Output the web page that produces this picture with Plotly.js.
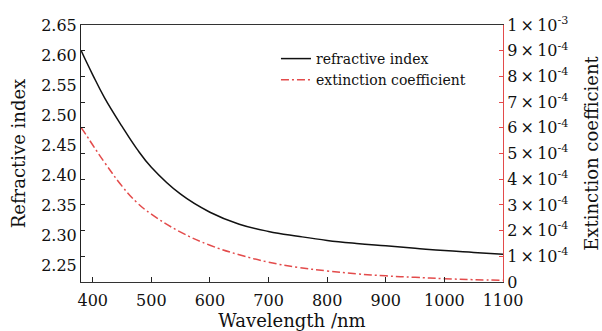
<!DOCTYPE html>
<html>
<head>
<meta charset="utf-8">
<script src="https://cdn.plot.ly/plotly-3.0.1.min.js"></script>
<style>html,body{margin:0;padding:0;background:#fff;}#chart{width:602px;height:331px;}</style>
</head>
<body>
<div id="chart"></div>
<script>
// Wavelength (nm)
const wavelength = [380, 390, 400, 420, 450, 475, 500, 550, 600, 650, 700, 750, 800, 850, 900, 950, 1000, 1050, 1100];
// Refractive index (left axis)
const refractiveIndex = [2.608, 2.587, 2.567, 2.529, 2.481, 2.444, 2.413, 2.368, 2.338, 2.318, 2.306, 2.298, 2.291, 2.286, 2.282, 2.278, 2.274, 2.271, 2.268];
// Extinction coefficient (right axis)
const extinctionCoeff = [6.01e-4, 5.68e-4, 5.33e-4, 4.66e-4, 3.73e-4, 3.10e-4, 2.64e-4, 1.94e-4, 1.43e-4, 1.06e-4, 0.77e-4, 0.57e-4, 0.43e-4, 0.32e-4, 0.24e-4, 0.18e-4, 0.13e-4, 0.09e-4, 0.07e-4];

const xTicks = [400, 500, 600, 700, 800, 900, 1000, 1100];
const leftTicks = [2.25, 2.30, 2.35, 2.40, 2.45, 2.50, 2.55, 2.60, 2.65];
const rightTicks = [0, 1e-4, 2e-4, 3e-4, 4e-4, 5e-4, 6e-4, 7e-4, 8e-4, 9e-4, 1e-3];
const rightTickText = ['0', '1\u2009×\u200910<sup>-4</sup>', '2\u2009×\u200910<sup>-4</sup>', '3\u2009×\u200910<sup>-4</sup>', '4\u2009×\u200910<sup>-4</sup>',
  '5\u2009×\u200910<sup>-4</sup>', '6\u2009×\u200910<sup>-4</sup>', '7\u2009×\u200910<sup>-4</sup>', '8\u2009×\u200910<sup>-4</sup>', '9\u2009×\u200910<sup>-4</sup>', '1\u2009×\u200910<sup>-3</sup>'];

const RED = '#e34b4b';
const FONT = 'DejaVu Serif';

const traces = [
  {x: wavelength, y: refractiveIndex, type: 'scatter', mode: 'lines', name: 'refractive index',
   line: {color: '#111', width: 1.5, shape: 'spline', smoothing: 1.2}, yaxis: 'y'},
  {x: wavelength, y: extinctionCoeff, type: 'scatter', mode: 'lines', name: 'extinction coefficient',
   line: {color: RED, width: 1.5, dash: '8px,3px,2px,3px', shape: 'spline', smoothing: 1.2}, yaxis: 'y2'},
  {x: [], y: [], type: 'scatter', mode: 'lines', showlegend: false, hoverinfo: 'skip', yaxis: 'y3'}
];

const layout = {
  width: 602, height: 331,
  margin: {l: 81, r: 99, t: 25, b: 49},
  paper_bgcolor: '#fff', plot_bgcolor: '#fff',
  font: {family: FONT, size: 16, color: '#111'},
  showlegend: true,
  legend: {x: 0.462, y: 0.93, xanchor: 'left', yanchor: 'top', bgcolor: 'rgba(0,0,0,0)',
           font: {family: FONT, size: 14, color: '#111'}, tracegroupgap: 0},
  xaxis: {range: [380, 1100], tickvals: xTicks, ticktext: xTicks.map(String),
          ticks: 'inside', ticklen: 5, tickcolor: '#222', tickwidth: 1,
          showline: true, linecolor: '#333', linewidth: 1, mirror: true,
          showgrid: false, zeroline: false, ticklabelstandoff: 4,
          title: {text: 'Wavelength /nm', font: {family: FONT, size: 18}, standoff: 4}},
  yaxis: {range: [2.2217, 2.65], tickvals: leftTicks, ticktext: leftTicks.map(v => v.toFixed(2)),
          ticks: '', showline: true, linecolor: '#222', linewidth: 1,
          showgrid: false, zeroline: false,
          title: {text: 'Refractive index', font: {family: FONT, size: 18}, standoff: 10}},
  yaxis2: {range: [0, 1e-3], overlaying: 'y', side: 'right', anchor: 'x',
           tickvals: rightTicks, ticktext: rightTickText,
           tickfont: {family: FONT, size: 16},
           ticks: 'inside', ticklen: 4, tickcolor: RED, tickwidth: 1,
           showline: true, linecolor: RED, linewidth: 1,
           showgrid: false, zeroline: false,
           title: {text: 'Extinction coefficient', font: {family: FONT, size: 18}, standoff: 17}},
  yaxis3: {range: [0, 10], overlaying: 'y', side: 'left', anchor: 'x', dtick: 1,
           ticks: 'inside', ticklen: 4, tickcolor: '#222', tickwidth: 1,
           showticklabels: false, showline: false, showgrid: false, zeroline: false}
};

Plotly.newPlot('chart', traces, layout, {staticPlot: true, displayModeBar: false});
</script>
</body>
</html>
